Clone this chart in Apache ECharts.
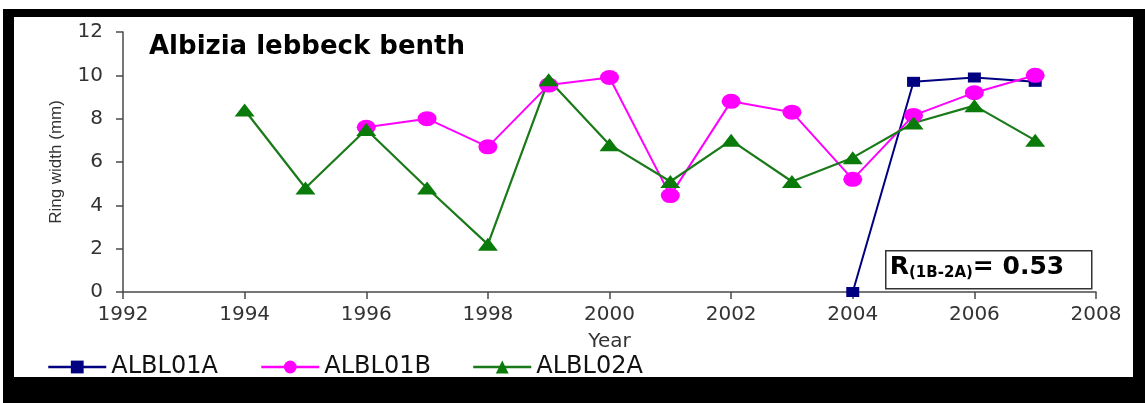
<!DOCTYPE html>
<html>
<head>
<meta charset="utf-8">
<script src="https://cdn.jsdelivr.net/npm/echarts@6/dist/echarts.min.js"></script>
<style>
html,body{margin:0;padding:0;background:#fff;width:1145px;height:403px;overflow:hidden;}
#frame{position:absolute;left:3px;top:9px;width:1142px;height:394px;background:#000;}
#chart{position:absolute;left:14px;top:17px;width:1119px;height:360px;background:#fff;}
</style>
</head>
<body>
<div id="frame"></div>
<div id="chart"></div>
<script>
const years = [1994,1995,1996,1997,1998,1999,2000,2001,2002,2003,2004,2005,2006,2007];
const albl01A = [null,null,null,null,null,null,null,null,null,null,0,9.7,9.9,9.7];
const albl01B = [null,null,7.6,8.0,6.7,9.55,9.9,4.45,8.8,8.3,5.2,8.15,9.2,10.0];
const albl02A = [8.4,4.8,7.5,4.8,2.2,9.8,6.8,5.1,7.0,5.1,6.2,7.8,8.6,7.0];
const seriesNames = ['ALBL01A','ALBL01B','ALBL02A'];
const titleText = 'Albizia lebbeck benth';
const corrText = {r:'R', sub:'(1B-2A)', val:'= 0.53'};

function pairs(vals){ return years.map((y,i)=> vals[i]==null ? null : [y, vals[i]]).filter(p=>p); }

const chart = echarts.init(document.getElementById('chart'));
const axisColor = '#4a4a4a';
const labelColor = '#333';
const font = 'DejaVu Sans';

function legendFor(i, left){
  return {data:[seriesNames[i]], left:left, top:333, itemWidth:58, itemHeight:16, itemGap:5,
    lineStyle:{width:2.5},
    textStyle:{fontFamily:font, fontSize:24, color:'#111'}};
}

chart.setOption({
  backgroundColor:'#fff',
  animation:false,
  title:{
    text:titleText, left:130, top:12,
    textStyle:{fontFamily:font, fontWeight:'bold', fontSize:26, color:'#000'}
  },
  grid:{left:109, right:37, top:15, bottom:85},
  legend:[legendFor(0,28), legendFor(1,241), legendFor(2,453)],
  xAxis:{
    type:'value', min:1992, max:2008, interval:2,
    name:'Year', nameLocation:'middle', nameGap:40,
    nameTextStyle:{fontFamily:font, fontSize:20, color:labelColor},
    axisLine:{show:true, lineStyle:{color:axisColor, width:1.5}},
    axisTick:{show:true, length:7, lineStyle:{color:axisColor, width:1.5}},
    axisLabel:{margin:13, fontFamily:font, fontSize:20, color:labelColor, formatter:v=>String(v)},
    splitLine:{show:false}
  },
  yAxis:{
    type:'value', min:0, max:12, interval:2,
    name:'Ring width (mm)', nameLocation:'middle', nameGap:58, nameRotate:90,
    nameTextStyle:{fontFamily:'Liberation Sans', fontSize:17, color:labelColor},
    axisLine:{show:true, lineStyle:{color:axisColor, width:1.5}},
    axisTick:{show:true, length:7, lineStyle:{color:axisColor, width:1.5}},
    axisLabel:{margin:20, fontFamily:font, fontSize:20, color:labelColor},
    splitLine:{show:false}
  },
  series:[
    {name:seriesNames[0], type:'line', data:pairs(albl01A), symbol:'rect', symbolSize:[13,10],
     itemStyle:{color:'#000080'}, lineStyle:{color:'#000080', width:2}},
    {name:seriesNames[1], type:'line', data:pairs(albl01B), symbol:'circle', symbolSize:[19,15],
     itemStyle:{color:'#ff00ff'}, lineStyle:{color:'#ff00ff', width:2}},
    {name:seriesNames[2], type:'line', data:pairs(albl02A), symbol:'triangle', symbolSize:[20,13],
     itemStyle:{color:'#0a7a0a'}, lineStyle:{color:'#1a7a1a', width:2.2}}
  ],
  graphic:[
    {type:'group', left:871, top:233, children:[
      {type:'rect', shape:{x:0,y:0,width:206,height:38},
       style:{fill:'#fff', stroke:'#333', lineWidth:1.5}},
      {type:'text', left:4, top:4, style:{
        text:'{r|'+corrText.r+'}{s|'+corrText.sub+'}{v|'+corrText.val+'}',
        rich:{
          r:{fontFamily:font, fontWeight:'bold', fontSize:25, fill:'#000'},
          s:{fontFamily:font, fontWeight:'bold', fontSize:15, fill:'#000', padding:[12,0,0,0]},
          v:{fontFamily:font, fontWeight:'bold', fontSize:25, fill:'#000'}
        }
      }}
    ]}
  ]
});
</script>
</body>
</html>
